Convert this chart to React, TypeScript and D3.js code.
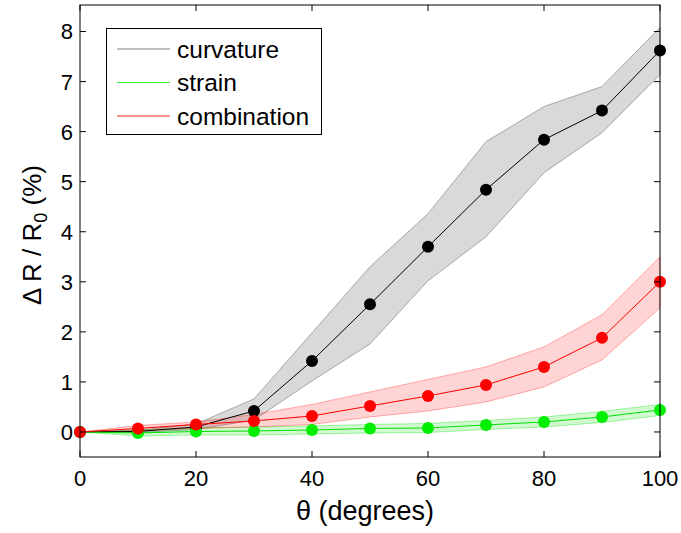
import React, { useEffect, useRef } from 'react';
import * as d3 from 'd3';

const angles = [0, 10, 20, 30, 40, 50, 60, 70, 80, 90, 100];

const curvature = [0, 0.01, 0.1, 0.42, 1.42, 2.55, 3.7, 4.84, 5.84, 6.42, 7.62];
const curvatureHi = [0, 0.03, 0.16, 0.66, 1.98, 3.3, 4.36, 5.8, 6.5, 6.9, 8.08];
const curvatureLo = [0, -0.01, 0.05, 0.24, 1.02, 1.76, 3.02, 3.9, 5.18, 5.98, 7.14];

const strain = [0, -0.02, 0.01, 0.02, 0.04, 0.07, 0.08, 0.14, 0.2, 0.3, 0.44];
const strainHi = [0, 0.04, 0.08, 0.1, 0.12, 0.15, 0.17, 0.23, 0.3, 0.41, 0.55];
const strainLo = [0, -0.08, -0.06, -0.06, -0.04, -0.02, -0.01, 0.05, 0.1, 0.19, 0.33];

const combination = [0, 0.07, 0.15, 0.22, 0.32, 0.52, 0.72, 0.94, 1.3, 1.88, 3.0];
const combinationHi = [0, 0.13, 0.2, 0.35, 0.55, 0.8, 1.05, 1.3, 1.7, 2.34, 3.5];
const combinationLo = [0, 0.02, 0.07, 0.1, 0.15, 0.3, 0.42, 0.6, 0.9, 1.44, 2.48];

const xTicks = [0, 20, 40, 60, 80, 100];
const yTicks = [0, 1, 2, 3, 4, 5, 6, 7, 8];

const seriesNames = ['curvature', 'strain', 'combination'];

export default function App() {
  const svgRef = useRef<SVGSVGElement>(null);

  useEffect(() => {
    const width = 681;
    const height = 533;
    const margin = { top: 5, right: 21, bottom: 76, left: 80 };
    const innerW = width - margin.left - margin.right;
    const innerH = height - margin.top - margin.bottom;
    const font = 'Liberation Sans, Arial, sans-serif';

    const svg = d3.select(svgRef.current).attr('width', width).attr('height', height);
    svg.selectAll('*').remove();
    svg.append('rect').attr('width', width).attr('height', height).attr('fill', '#fff');
    const g = svg.append('g').attr('transform', `translate(${margin.left},${margin.top})`);

    const x = d3.scaleLinear().domain([0, 100]).range([0, innerW]);
    const y = d3.scaleLinear().domain([-0.5, 8.53]).range([innerH, 0]);

    const series = [
      { name: seriesNames[0], mid: curvature, hi: curvatureHi, lo: curvatureLo, line: '#000', dot: '#000', fill: '#d9d9d9', edge: '#a8a8a8', legend: '#7f7f7f' },
      { name: seriesNames[1], mid: strain, hi: strainHi, lo: strainLo, line: '#00e000', dot: '#00ee00', fill: 'rgba(0,230,0,0.18)', edge: 'rgba(0,220,0,0.35)', legend: '#33ee33' },
      { name: seriesNames[2], mid: combination, hi: combinationHi, lo: combinationLo, line: '#ff0000', dot: '#ff0000', fill: 'rgba(255,0,0,0.17)', edge: 'rgba(255,0,0,0.3)', legend: '#ff2222' },
    ];

    const area = d3.area<number>().x((_, i) => x(angles[i]));
    const line = d3.line<number>().x((_, i) => x(angles[i])).y(v => y(v));

    // shaded bands underneath everything
    series.forEach(s => {
      const band = area.y0((_, i) => y(s.lo[i])).y1((_, i) => y(s.hi[i]));
      g.append('path').attr('d', band(s.mid) as string)
        .attr('fill', s.fill).attr('stroke', s.edge).attr('stroke-width', 1);
    });

    series.forEach(s => {
      g.append('path').attr('d', line(s.mid) as string)
        .attr('fill', 'none').attr('stroke', s.line).attr('stroke-width', 1);
      g.selectAll(null).data(s.mid).join('circle')
        .attr('cx', (_, i) => x(angles[i])).attr('cy', d => y(d))
        .attr('r', 6).attr('fill', s.dot);
    });

    // box + inward ticks
    g.append('rect').attr('width', innerW).attr('height', innerH)
      .attr('fill', 'none').attr('stroke', '#000').attr('stroke-width', 1);
    const tk = 6;
    xTicks.forEach(t => {
      g.append('line').attr('x1', x(t)).attr('x2', x(t)).attr('y1', innerH).attr('y2', innerH - tk).attr('stroke', '#000');
      g.append('line').attr('x1', x(t)).attr('x2', x(t)).attr('y1', 0).attr('y2', tk).attr('stroke', '#000');
      g.append('text').attr('x', x(t)).attr('y', innerH + 29).attr('text-anchor', 'middle')
        .attr('font-family', font).attr('font-size', 22).text(t);
    });
    yTicks.forEach(t => {
      g.append('line').attr('x1', 0).attr('x2', tk).attr('y1', y(t)).attr('y2', y(t)).attr('stroke', '#000');
      g.append('line').attr('x1', innerW).attr('x2', innerW - tk).attr('y1', y(t)).attr('y2', y(t)).attr('stroke', '#000');
      g.append('text').attr('x', -7).attr('y', y(t)).attr('dy', '0.36em').attr('text-anchor', 'end')
        .attr('font-family', font).attr('font-size', 22).text(t);
    });

    // axis labels
    svg.append('text').attr('x', 365).attr('y', 520).attr('text-anchor', 'middle')
      .attr('font-family', font).attr('font-size', 27).text('θ (degrees)');
    const yl = svg.append('text').attr('transform', 'translate(41,235) rotate(-90)')
      .attr('text-anchor', 'middle').attr('font-family', font).attr('font-size', 26);
    yl.append('tspan').text('Δ R / R');
    yl.append('tspan').attr('font-size', 18).attr('dy', 6).text('0');
    yl.append('tspan').attr('dy', -6).text(' (%)');

    // legend
    const lg = svg.append('g');
    lg.append('rect').attr('x', 106.5).attr('y', 28.5).attr('width', 215).attr('height', 106)
      .attr('fill', '#fff').attr('stroke', '#000').attr('stroke-width', 1);
    series.forEach((s, i) => {
      const cy = 49 + i * 33.5;
      lg.append('line').attr('x1', 117).attr('x2', 170).attr('y1', cy).attr('y2', cy)
        .attr('stroke', s.legend).attr('stroke-width', 1);
      lg.append('text').attr('x', 177).attr('y', cy).attr('dy', '0.35em')
        .attr('font-family', font).attr('font-size', 24.5).text(s.name);
    });
  }, []);

  return (
    <div style={{ position: 'absolute', left: 0, top: 0 }}>
      <svg ref={svgRef} style={{ display: 'block' }} />
    </div>
  );
}
